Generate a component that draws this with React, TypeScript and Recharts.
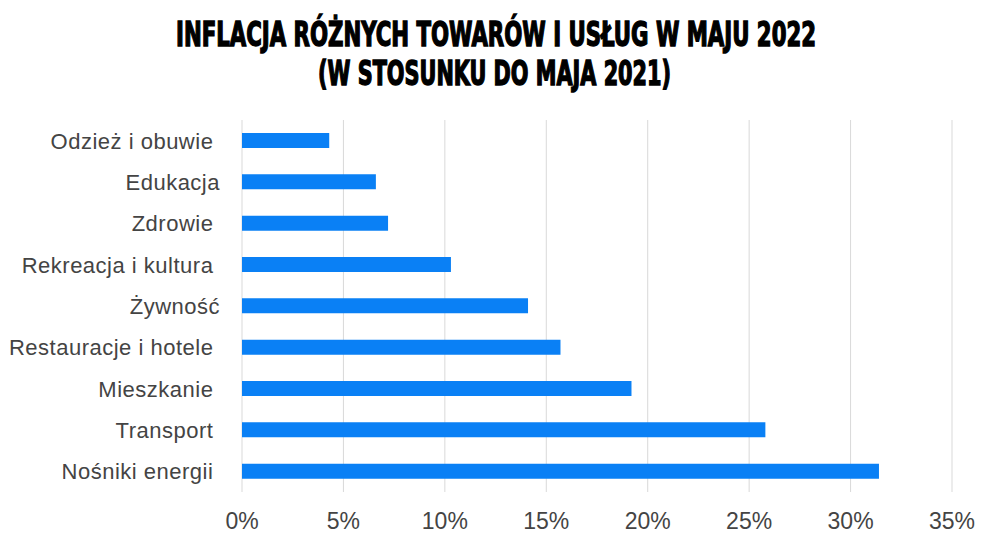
import React from "react";
import { BarChart, Bar, XAxis, YAxis, CartesianGrid } from "recharts";

const categories = [
  "Odzież i obuwie ",
  "Edukacja",
  "Zdrowie ",
  "Rekreacja i kultura ",
  "Żywność",
  "Restauracje i hotele ",
  "Mieszkanie ",
  "Transport ",
  "Nośniki energii ",
];
const values = [4.3, 6.6, 7.2, 10.3, 14.1, 15.7, 19.2, 25.8, 31.4];
const xTicks = [0, 5, 10, 15, 20, 25, 30, 35];
const titleLines = [
  "INFLACJA RÓŻNYCH TOWARÓW I USŁUG W MAJU 2022",
  "(W STOSUNKU DO MAJA 2021)",
];

const data = categories.map((name, i) => ({ name, value: values[i] }));

const FONT = "'Liberation Sans', Arial, Helvetica, sans-serif";
const TITLE_FONT = "'DejaVu Sans Condensed', 'Liberation Sans Narrow', 'Liberation Sans', sans-serif";

const YTick = (props: any) => {
  const { x, y, payload } = props;
  return (
    <text
      x={x - 22}
      y={y + 8}
      textAnchor="end"
      fill="#444"
      fontSize={22}
      letterSpacing={0.5}
      fontFamily={FONT}
      style={{ whiteSpace: "pre" }}
      xmlSpace="preserve"
    >
      {payload.value}
    </text>
  );
};

const XTick = (props: any) => {
  const { x, y, payload } = props;
  return (
    <text x={x} y={y + 37} textAnchor="middle" fill="#444" fontSize={23} fontFamily={FONT}>
      {`${payload.value}%`}
    </text>
  );
};

const TitleLine = ({ text, cx, baseline, width }: { text: string; cx: number; baseline: number; width: number }) => (
  <g transform={`translate(${cx},${baseline}) scale(1,1.4)`}>
    <text
      x={0}
      y={0}
      textAnchor="middle"
      fontFamily={TITLE_FONT}
      fontWeight="bold"
      fontSize={24}
      fill="#000"
      stroke="#000"
      strokeWidth={1}
      textLength={width}
      lengthAdjust="spacingAndGlyphs"
    >
      {text}
    </text>
  </g>
);

export default function App() {
  return (
    <div style={{ position: "absolute", left: 0, top: 0, width: 988, height: 541, background: "#fff" }}>
      <svg width={988} height={110} style={{ position: "absolute", left: 0, top: 0 }}>
        <TitleLine text={titleLines[0]} cx={496} baseline={46} width={640} />
        <TitleLine text={titleLines[1]} cx={494.5} baseline={85} width={353} />
      </svg>
      <div style={{ position: "absolute", left: 0, top: 0 }}>
        <BarChart
          width={988}
          height={541}
          data={data}
          layout="vertical"
          margin={{ top: 120, right: 36, bottom: 0, left: 0 }}
        >
          <CartesianGrid horizontal={false} stroke="#d9d9d9" strokeWidth={1} />
          <XAxis
            type="number"
            domain={[0, 35]}
            ticks={xTicks}
            axisLine={false}
            tickLine={false}
            tickSize={0}
            tickMargin={0}
            height={49}
            tick={<XTick />}
            interval={0}
          />
          <YAxis
            type="category"
            dataKey="name"
            width={242}
            axisLine={false}
            tickLine={false}
            tickSize={0}
            tickMargin={0}
            tick={<YTick />}
            interval={0}
          />
          <Bar dataKey="value" fill="#0a80f5" barSize={15} isAnimationActive={false} />
        </BarChart>
      </div>
    </div>
  );
}
